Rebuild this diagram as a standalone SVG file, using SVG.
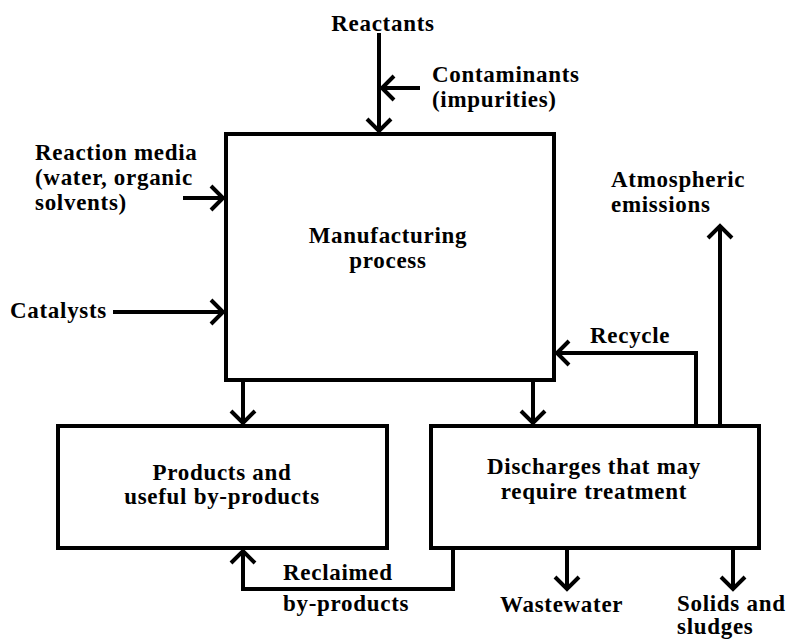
<svg xmlns="http://www.w3.org/2000/svg" width="787" height="640" viewBox="0 0 787 640">
<style>
text{font-family:"Liberation Serif","Times New Roman",serif;font-weight:bold;font-size:23px;letter-spacing:0.7px;fill:#000}
.box{fill:#fff;stroke:#000;stroke-width:4}
.c{fill:none;stroke:#000;stroke-width:4}
.m{text-anchor:middle}
</style>
<defs>
<marker id="ah" markerUnits="userSpaceOnUse" viewBox="-15 -15 30 30" markerWidth="30" markerHeight="30" refX="0" refY="0" orient="auto" overflow="visible">
<path d="M-12,-12 L0,0 L-12,12" fill="none" stroke="#000" stroke-width="4"/>
</marker>
</defs>
<rect width="787" height="640" fill="#fff"/>
<g id="manufacturing">
<rect class="box" x="226" y="134" width="328" height="246"/>
<text class="m" x="388" y="243">Manufacturing</text>
<text class="m" x="388" y="268">process</text>
</g>
<g id="products">
<rect class="box" x="58" y="426" width="329" height="122"/>
<text class="m" x="222" y="480">Products and</text>
<text class="m" x="222" y="504">useful by-products</text>
</g>
<g id="discharges">
<rect class="box" x="431" y="426" width="328" height="122"/>
<text class="m" x="594" y="474">Discharges that may</text>
<text class="m" x="594" y="499">require treatment</text>
</g>
<g id="labels">
<text class="m" x="383" y="31">Reactants</text>
<text x="432" y="82">Contaminants</text>
<text x="432" y="107">(impurities)</text>
<text x="35" y="160">Reaction media</text>
<text x="35" y="185">(water, organic</text>
<text x="35" y="210">solvents)</text>
<text x="10" y="318">Catalysts</text>
<text x="611" y="187">Atmospheric</text>
<text x="611" y="212">emissions</text>
<text x="590" y="343">Recycle</text>
<text x="283" y="580">Reclaimed</text>
<text x="283" y="611">by-products</text>
<text x="500" y="612">Wastewater</text>
<text x="677" y="611">Solids and</text>
<text x="677" y="634">sludges</text>
</g>
<g id="connectors">
<path class="c" d="M379,33 V131" marker-end="url(#ah)"/>
<path class="c" d="M420,88 H382" marker-end="url(#ah)"/>
<path class="c" d="M183,198 H223" marker-end="url(#ah)"/>
<path class="c" d="M113,312 H223" marker-end="url(#ah)"/>
<path class="c" d="M243,382 V423" marker-end="url(#ah)"/>
<path class="c" d="M533,382 V423" marker-end="url(#ah)"/>
<path class="c" d="M696,424 V353 H557" marker-end="url(#ah)"/>
<path class="c" d="M720,424 V226" marker-end="url(#ah)"/>
<path class="c" d="M453,550 V589 H243 V551" marker-end="url(#ah)"/>
<path class="c" d="M567,550 V589" marker-end="url(#ah)"/>
<path class="c" d="M733,550 V589" marker-end="url(#ah)"/>
</g>
</svg>
